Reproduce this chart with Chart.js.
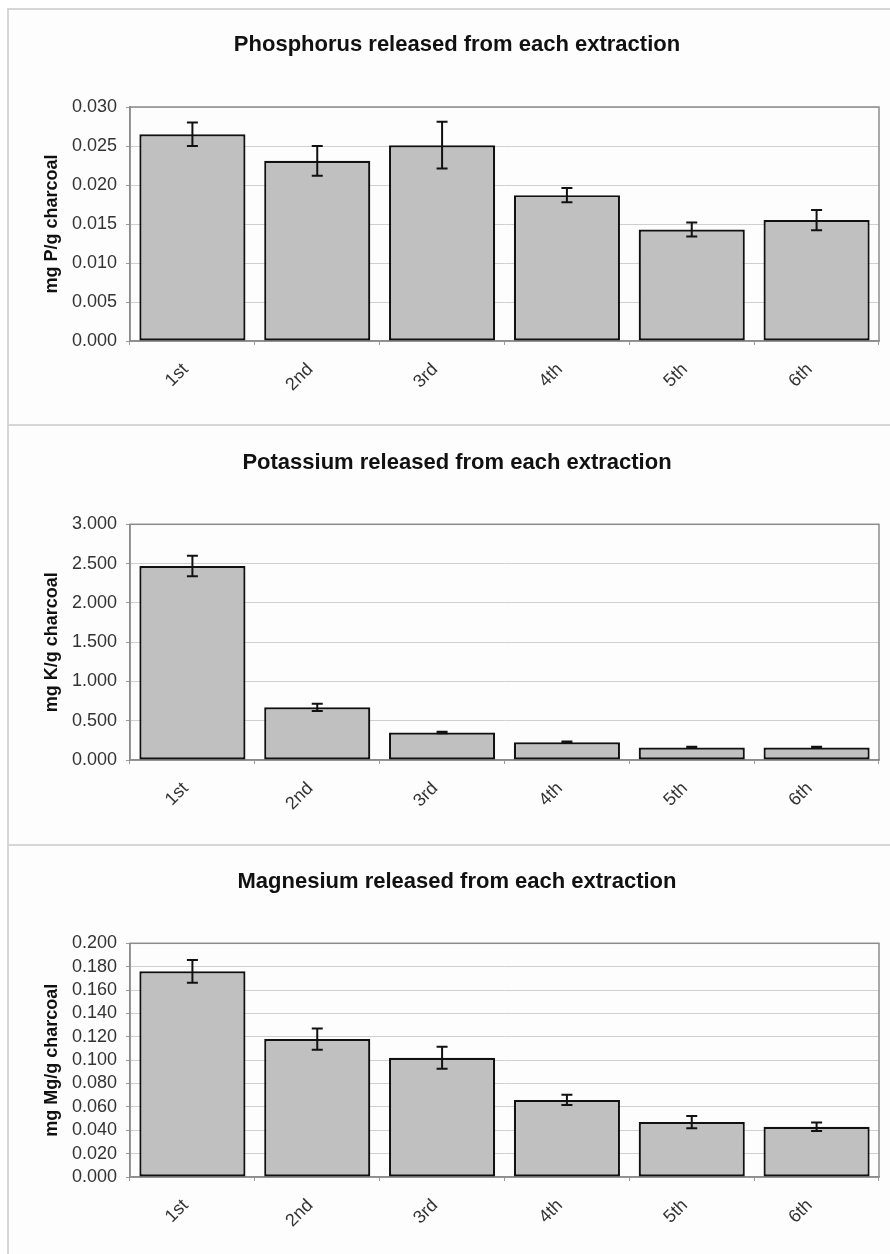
<!DOCTYPE html>
<html>
<head>
<meta charset="utf-8">
<script src="https://cdn.jsdelivr.net/npm/chart.js@4.4.1/dist/chart.umd.min.js"></script>
<style>
  html, body { margin: 0; padding: 0; background: #ffffff; }
  body { width: 890px; height: 1254px; position: relative; overflow: hidden; }
  #frame { position: absolute; left: 7px; top: 8px; width: 883px; height: 1246px;
           border-left: 2px solid #d6d6d6; background: #fdfdfd; }
  .panel { position: absolute; left: 0; width: 883px; border-top: 2px solid #d6d6d6; }
  canvas { display: block; }
</style>
</head>
<body>
<div id="frame">
  <div class="panel" style="top:0px;height:416px;"><canvas id="c1" width="881" height="414"></canvas></div>
  <div class="panel" style="top:416px;height:420px;"><canvas id="c2" width="881" height="418"></canvas></div>
  <div class="panel" style="top:836px;height:410px;"><canvas id="c3" width="881" height="408"></canvas></div>
</div>
<script>
// ---- data ----
const categories = ['1st', '2nd', '3rd', '4th', '5th', '6th'];

const phosphorusTitle = 'Phosphorus released from each extraction';
const phosphorusAxis = 'mg P/g charcoal';
const phosphorusValues = [0.0265, 0.0231, 0.0251, 0.0187, 0.0143, 0.0155];
const phosphorusErrors = [0.0015, 0.0019, 0.0030, 0.0009, 0.0009, 0.0013];
const phosphorusTicks = { min: 0, max: 0.030, step: 0.005 };

const potassiumTitle = 'Potassium released from each extraction';
const potassiumAxis = 'mg K/g charcoal';
const potassiumValues = [2.47, 0.67, 0.35, 0.225, 0.16, 0.16];
const potassiumErrors = [0.13, 0.045, 0.01, 0.01, 0.008, 0.008];
const potassiumTicks = { min: 0, max: 3.0, step: 0.5 };

const magnesiumTitle = 'Magnesium released from each extraction';
const magnesiumAxis = 'mg Mg/g charcoal';
const magnesiumValues = [0.176, 0.118, 0.102, 0.066, 0.047, 0.043];
const magnesiumErrors = [0.0098, 0.009, 0.0094, 0.0044, 0.0052, 0.0036];
const magnesiumTicks = { min: 0, max: 0.200, step: 0.02 };

// ---- plugins ----
const FONT = 'Liberation Sans, Arial, Helvetica, sans-serif';

const plotFrame = {
  id: 'plotFrame',
  beforeDatasetsDraw(chart) {
    const a = chart.chartArea, ctx = chart.ctx;
    ctx.save();
    ctx.strokeStyle = '#8c8c8c';
    ctx.lineWidth = 1.5;
    ctx.strokeRect(a.left, a.top, a.right - a.left, a.bottom - a.top);
    ctx.restore();
  }
};

const errorBars = {
  id: 'errorBars',
  afterDatasetsDraw(chart, args, opts) {
    const ctx = chart.ctx;
    const meta = chart.getDatasetMeta(0);
    const y = chart.scales.y;
    const vals = chart.data.datasets[0].data;
    const errs = opts.errors || [];
    ctx.save();
    ctx.strokeStyle = '#111';
    ctx.lineWidth = 2;
    meta.data.forEach((bar, i) => {
      const e = errs[i];
      if (!e) return;
      const hi = y.getPixelForValue(vals[i] + e);
      const lo = y.getPixelForValue(vals[i] - e);
      const x = bar.x;
      ctx.beginPath();
      ctx.moveTo(x, hi); ctx.lineTo(x, lo);
      ctx.moveTo(x - 5.5, hi); ctx.lineTo(x + 5.5, hi);
      ctx.moveTo(x - 5.5, lo); ctx.lineTo(x + 5.5, lo);
      ctx.stroke();
    });
    ctx.restore();
  }
};

function makeChart(id, title, axisTitle, values, errors, ticks, geom) {
  return new Chart(document.getElementById(id), {
    type: 'bar',
    data: {
      labels: categories,
      datasets: [{
        data: values,
        backgroundColor: '#c0c0c0',
        borderColor: '#111111',
        borderWidth: 2.2,
        borderSkipped: false,
        barPercentage: 0.85,
        categoryPercentage: 1.0
      }]
    },
    options: {
      responsive: false,
      animation: false,
      devicePixelRatio: 1,
      layout: { padding: { left: 26, right: 11, top: 0, bottom: 0 } },
      plugins: {
        legend: { display: false },
        tooltip: { enabled: false },
        title: {
          display: true,
          text: title,
          color: '#111',
          font: { family: FONT, size: 22, weight: 'bold' },
          padding: { top: geom.titleTop, bottom: geom.titleBottom }
        },
        errorBars: { errors: errors }
      },
      scales: {
        x: {
          afterFit: s => { s.height = geom.xHeight; },
          grid: { display: true, drawOnChartArea: false, drawTicks: true, tickLength: 4,
                  color: '#9a9a9a', offset: true },
          border: { display: true, color: '#8c8c8c', width: 1.5 },
          ticks: { color: '#333', font: { family: FONT, size: 18 },
                   minRotation: 45, maxRotation: 45, padding: 14, labelOffset: -7 }
        },
        y: {
          min: ticks.min, max: ticks.max,
          afterFit: s => { s.width = 95; },
          grid: { color: '#d0d0d0', lineWidth: 1, tickLength: 4, tickColor: '#9a9a9a' },
          border: { display: true, color: '#8c8c8c', width: 1.5 },
          ticks: {
            stepSize: ticks.step,
            autoSkip: false,
            color: '#333',
            padding: 9,
            font: { family: FONT, size: 18 },
            callback: v => Number(v).toFixed(3)
          },
          title: {
            display: true,
            text: axisTitle,
            color: '#111',
            font: { family: FONT, size: 18, weight: 'bold' },
            padding: { top: 6, bottom: 0 }
          }
        }
      }
    },
    plugins: [plotFrame, errorBars]
  });
}

makeChart('c1', phosphorusTitle, phosphorusAxis, phosphorusValues, phosphorusErrors, phosphorusTicks,
  { titleTop: 22, titleBottom: 48.6, xHeight: 83 });
makeChart('c2', potassiumTitle, potassiumAxis, potassiumValues, potassiumErrors, potassiumTicks,
  { titleTop: 23.8, titleBottom: 48.1, xHeight: 84 });
makeChart('c3', magnesiumTitle, magnesiumAxis, magnesiumValues, magnesiumErrors, magnesiumTicks,
  { titleTop: 22.8, titleBottom: 48.1, xHeight: 77 });
</script>
</body>
</html>
